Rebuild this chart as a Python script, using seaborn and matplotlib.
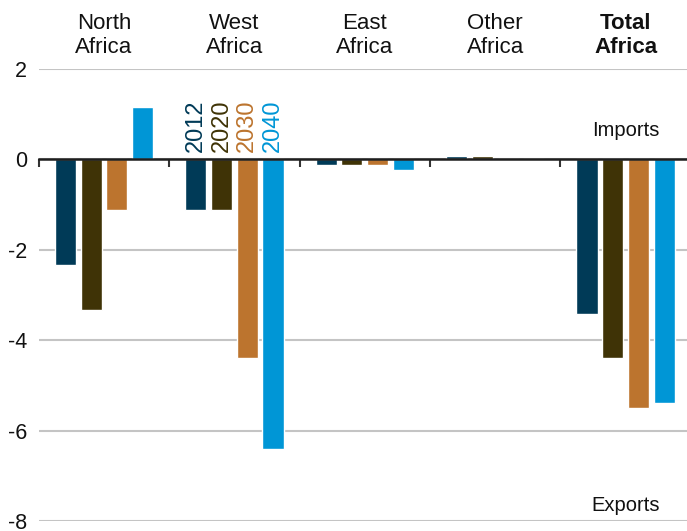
import numpy as np
import pandas as pd
import matplotlib
matplotlib.use("Agg")
import matplotlib.pyplot as plt
import seaborn as sns

# Net trade balance by region (negative = exports, positive = imports)
regions = ["North\nAfrica", "West\nAfrica", "East\nAfrica", "Other\nAfrica", "Total\nAfrica"]
years = ["2012", "2020", "2030", "2040"]
values_2012 = [-2.34, -1.13, -0.12, 0.08, -3.41]
values_2020 = [-3.34, -1.13, -0.12, 0.08, -4.40]
values_2030 = [-1.13, -4.40, -0.12, 0.0, -5.49]
values_2040 = [1.16, -6.41, -0.23, 0.0, -5.40]
year_colors = ["#003A57", "#3F3306", "#BC742E", "#0096D6"]
y_ticks = [2, 0, -2, -4, -6, -8]

series = [values_2012, values_2020, values_2030, values_2040]
df = pd.DataFrame(
    [(r, y, v) for y, vals in zip(years, series) for r, v in zip(regions, vals)],
    columns=["region", "year", "value"],
)

sns.set_theme(style="white")
plt.rcParams["font.family"] = ["Liberation Sans", "DejaVu Sans"]
plt.rcParams["axes.unicode_minus"] = False

fig = plt.figure(figsize=(6.87, 5.31), dpi=100)
ax = fig.add_axes([38.8 / 687, 10 / 531, 652 / 687, 452 / 531])

sns.barplot(
    data=df, x="region", y="value", hue="year", order=regions, hue_order=years,
    palette=year_colors, width=0.79, gap=0.18, saturation=1, legend=False, ax=ax,
)

ax.set_xlim(-0.5, len(regions) - 0.5)
ax.set_ylim(-8, 2)
ax.set_xlabel("")
ax.set_ylabel("")

# horizontal grid
ax.set_yticks(y_ticks)
ax.set_yticklabels([str(t) for t in y_ticks])
ax.yaxis.grid(True, color="#c4c4c4", linewidth=1.5)
ax.set_axisbelow(True)
ax.tick_params(axis="y", length=0, pad=8.5, labelsize=15.5, colors="#111111")

# zero line with separators between regions
for s in ["top", "right", "left"]:
    ax.spines[s].set_visible(False)
ax.spines["bottom"].set_position(("data", 0))
ax.spines["bottom"].set_color("#1e1e1e")
ax.spines["bottom"].set_linewidth(1.8)
ax.spines["bottom"].set_zorder(5)

ax.set_xticks(np.arange(-0.5, len(regions), 1), minor=True)
ax.tick_params(axis="x", which="minor", bottom=True, direction="out",
               length=6, width=1.5, color="#333333")
ax.set_xticks(range(len(regions)))
ax.set_xticklabels(regions, linespacing=1.15)
ax.tick_params(axis="x", which="major", bottom=False, top=False,
               labelbottom=False, labeltop=True, pad=2, labelsize=16,
               colors="#111111")
ax.get_xticklabels()[-1].set_fontweight("bold")

# year labels above the West Africa bars
for year, color, cont in zip(years, year_colors, ax.containers):
    p = cont.patches[1]
    ax.text(p.get_x() + p.get_width() / 2, 0.16, year, rotation=90,
            ha="center", va="bottom", color=color, fontsize=17)

ax.text(4, 0.63, "Imports", ha="center", va="center", fontsize=14.5, color="#111111")
ax.text(4, -7.65, "Exports", ha="center", va="center", fontsize=14.5, color="#111111")

fig.savefig("out.png", dpi=100)
